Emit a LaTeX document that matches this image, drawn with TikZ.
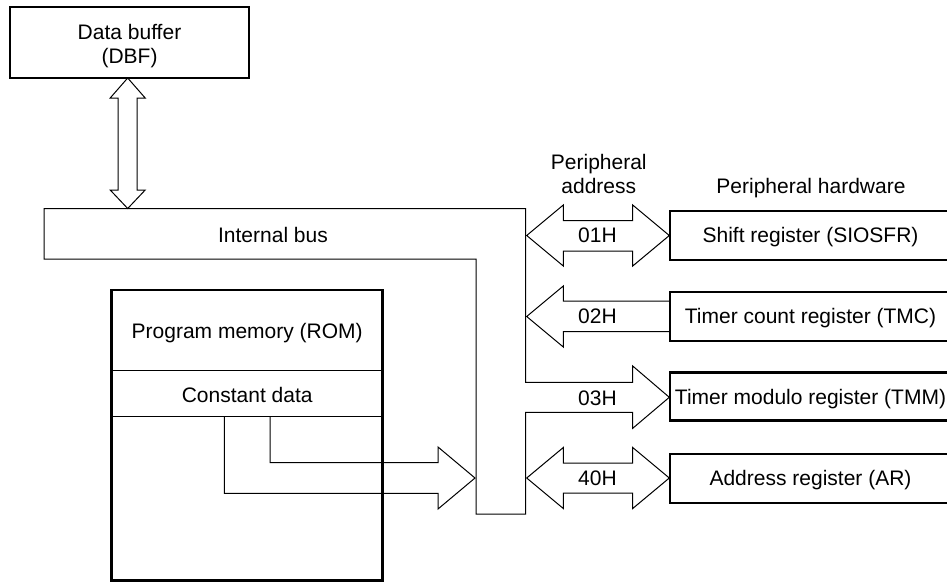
\documentclass[tikz,border=0pt]{standalone}
\usepackage{fontspec}
\setmainfont{Liberation Sans}
\begin{document}
\begin{tikzpicture}[x=1pt,y=-1pt,
  thinln/.style={line width=1pt, line join=miter},
  boxx/.style={draw, line width=2.5pt, inner sep=0pt},
  txt/.style={font=\fontsize{21}{24}\selectfont, text height=18pt, text depth=3.2pt, inner sep=0pt},
  mtxt/.style={font=\fontsize{21}{24}\selectfont, align=center, inner sep=0pt},
  ]
\useasboundingbox (0,0) rectangle (947,582);
\clip (0,0) rectangle (947,582);

% Data buffer
\node[boxx, minimum width=239pt, minimum height=71pt] (dbf) at (129.5,42.5) {};
\node[mtxt] (dbft) at (129.5,45.9) {Data buffer\\(DBF)};

% Program memory
\node[boxx, minimum width=271pt, minimum height=290.7pt] (rom) at (247.2,435.35) {};
\coordinate (sepa) at (0,370);
\coordinate (sepb) at (0,416);
\draw[thinln] (rom.west |- sepa) -- (rom.east |- sepa);
\draw[thinln] (rom.west |- sepb) -- (rom.east |- sepb);
\node[txt] (romt) at (247.2,330.8) {Program memory (ROM)};
\node[txt] (cdt) at (247.2,395) {Constant data};

% Peripheral boxes
\node[boxx, minimum width=281pt, minimum height=49pt, txt] (sio) at (810.5,235.5) {Shift register (SIOSFR)};
\node[boxx, minimum width=281pt, minimum height=49pt, txt] (tmc) at (810.5,316.4) {Timer count register (TMC)};
\node[boxx, minimum width=281pt, minimum height=48pt, txt] (tmm) at (810.5,396.7) {Timer modulo register (TMM)};
\node[boxx, minimum width=281pt, minimum height=49pt, txt] (ar) at (810.5,478.5) {Address register (AR)};

% headings
\node[mtxt, font=\fontsize{21}{23.3}\selectfont] (pat) at (598.8,174) {Peripheral\\address};
\node[txt] (pht) at (811,185.8) {Peripheral hardware};

% Internal bus (with 03H arrow)
\coordinate (a3) at (669.3,397.3);
\draw[thinln] (44,208.5) -- (525.7,208.5) -- (525.7,382.3) -- (632.7,382.3) -- (632.7,366)
  -- (a3) -- (632.7,428.3) -- (632.7,412.3) -- (525.7,412.3) -- (525.7,514)
  -- (476,514) -- (476,259) -- (44,259) -- cycle;
\node[txt] (bust) at (273,235.5) {Internal bus};

% DBF <-> bus arrow
\coordinate (dtop) at (127.7,78);
\coordinate (dbot) at (127.7,208.5);
\draw[thinln] (dtop) -- (145.2,98) -- (137.2,98) -- (137.2,190) -- (145.2,190) -- (dbot)
  -- (110.2,190) -- (118.2,190) -- (118.2,98) -- (110.2,98) -- cycle;

% 01H double arrow
\coordinate (a1) at (526.7,235.5);
\coordinate (b1) at (669.3,235.5);
\draw[thinln] (a1) -- (563.3,205) -- (563.3,220.5) -- (632.7,220.5) -- (632.7,205) -- (b1)
  -- (632.7,266) -- (632.7,251) -- (563.3,251) -- (563.3,266) -- cycle;
\node[txt] (l01) at (597.5,235.5) {01H};

% 02H arrow (from TMC to bus)
\coordinate (a2) at (526.7,316.5);
\draw[thinln] (tmc.west |- 0,301) -- (563.3,301) -- (563.3,286) -- (a2) -- (563.3,347) -- (563.3,331.7) -- (tmc.west |- 0,331.7);
\node[txt] (l02) at (597.5,316.5) {02H};

\node[txt] (l03) at (597.5,398) {03H};

% 40H double arrow
\coordinate (a4) at (526.7,478);
\coordinate (b4) at (669.3,478);
\draw[thinln] (a4) -- (563.3,447.5) -- (563.3,463) -- (632.7,463) -- (632.7,447.5) -- (b4)
  -- (632.7,508.5) -- (632.7,493) -- (563.3,493) -- (563.3,508.5) -- cycle;
\node[txt] (l40) at (597.5,478.5) {40H};

% Constant data -> bus arrow
\coordinate (ctip) at (475,478);
\draw[thinln] (224.3,416) -- (224.3,493.3) -- (438,493.3) -- (438,509) -- (ctip) -- (438,447)
  -- (438,462.7) -- (270,462.7) -- (270,416);
\end{tikzpicture}
\end{document}
